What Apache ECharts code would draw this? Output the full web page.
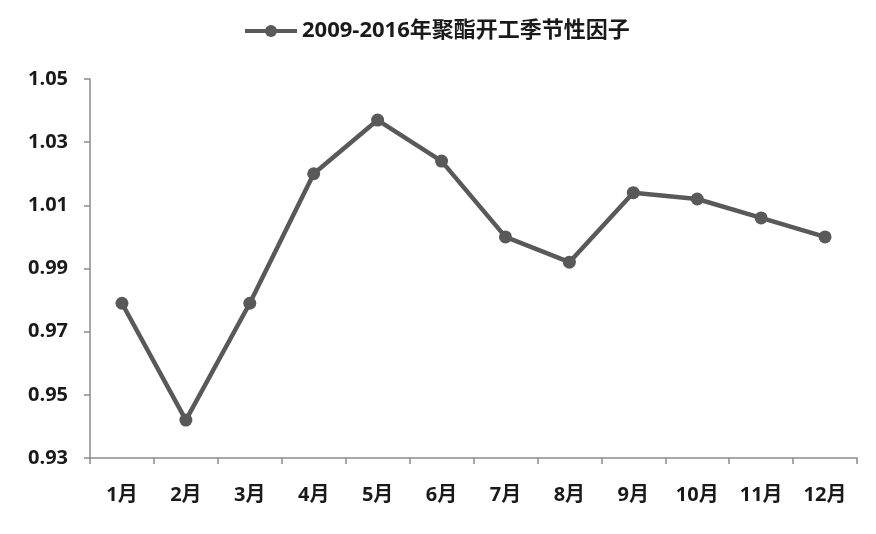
<!DOCTYPE html>
<html><head><meta charset="utf-8">
<script src="https://cdn.jsdelivr.net/npm/echarts@6/dist/echarts.min.js"></script>
<style>html,body{margin:0;padding:0;background:#fff}#c{width:876px;height:534px}</style>
</head><body><div id="c"></div>
<script>
const categories = ['1月','2月','3月','4月','5月','6月','7月','8月','9月','10月','11月','12月'];
const seriesName = '2009-2016年聚酯开工季节性因子';
const values = [0.979, 0.942, 0.979, 1.020, 1.037, 1.024, 1.000, 0.992, 1.014, 1.012, 1.006, 1.000];
const yMin = 0.93, yMax = 1.05, yStep = 0.02;

const font = '"Open Sans", "Noto Sans CJK SC", sans-serif';
const chart = echarts.init(document.getElementById('c'));
chart.setOption({
  animation: false,
  backgroundColor: '#fff',
  legend: {
    top: 15, left: 238,
    itemWidth: 52, itemHeight: 15, itemGap: 5,
    lineStyle: { width: 4 },
    textStyle: { fontFamily: font, fontSize: 22, fontWeight: 'bold', color: '#1a1a1a' },
    data: [seriesName]
  },
  grid: { left: 90, right: 19, top: 79, bottom: 76, containLabel: false },
  xAxis: {
    type: 'category', data: categories, boundaryGap: true,
    axisLine: { lineStyle: { color: '#8c8c8c', width: 1.5 } },
    axisTick: { show: true, alignWithLabel: false, length: 6, lineStyle: { color: '#8c8c8c', width: 1.5 } },
    axisLabel: { margin: 27, fontFamily: font, fontSize: 20, fontWeight: 'bold', color: '#1a1a1a' }
  },
  yAxis: {
    type: 'value', min: yMin, max: yMax, interval: yStep,
    axisLine: { show: true, lineStyle: { color: '#8c8c8c', width: 1.5 } },
    axisTick: { show: true, length: 6, lineStyle: { color: '#8c8c8c', width: 1.5 } },
    splitLine: { show: false },
    axisLabel: { margin: 22, fontFamily: font, fontSize: 20, fontWeight: 'bold', color: '#1a1a1a',
      formatter: v => v.toFixed(2) }
  },
  series: [{
    name: seriesName, type: 'line', data: values,
    symbol: 'circle', symbolSize: 13,
    lineStyle: { color: '#595959', width: 4.5 },
    itemStyle: { color: '#595959' }
  }]
});
</script></body></html>
